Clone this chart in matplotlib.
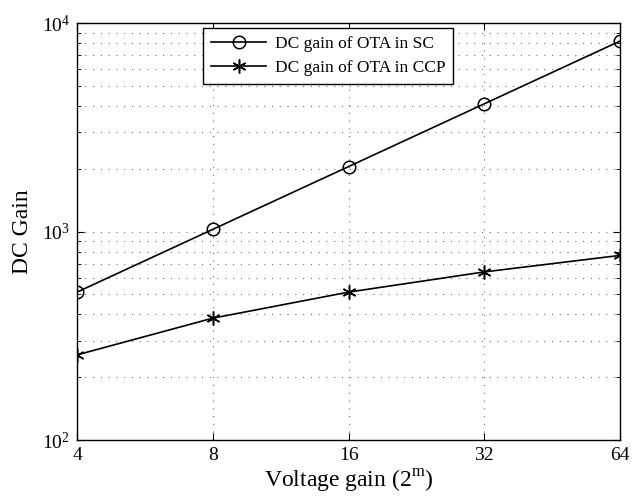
import matplotlib
matplotlib.use("Agg")
import matplotlib.pyplot as plt
from matplotlib.ticker import FixedLocator, FixedFormatter, LogLocator, NullFormatter

from matplotlib import rcParams
rcParams['font.family'] = 'serif'
rcParams['font.serif'] = ['Liberation Serif', 'DejaVu Serif']
rcParams['mathtext.fontset'] = 'custom'
rcParams['mathtext.rm'] = 'Liberation Serif'

voltage_gain = [4, 8, 16, 32, 64]
gain_sc = [512, 1024, 2048, 4096, 8192]
gain_ccp = [256, 384, 512, 640, 768]
x_ticklabels = ["4", "8", "16", "32", "64"]


def main():
    fig = plt.figure(figsize=(6.43, 5.0), dpi=100)
    ax = fig.add_axes([0.1198, 0.12, 0.8445, 0.834])

    ax.plot(voltage_gain, gain_sc, color="black", lw=1.2, marker="o",
            markersize=9, markerfacecolor="none", markeredgewidth=1.1,
            label="DC gain of OTA in SC")
    # asterisk marker: three crossed strokes
    ax.plot(voltage_gain, gain_ccp, color="black", lw=1.2, marker=(6, 2, 0),
            markersize=10, markeredgewidth=1.1,
            label="DC gain of OTA in CCP")

    ax.set_xscale("log", base=2)
    ax.set_yscale("log")
    ax.set_xlim(4, 64)
    ax.set_ylim(1e2, 1e4)

    ax.xaxis.set_major_locator(FixedLocator(voltage_gain))
    ax.xaxis.set_major_formatter(FixedFormatter(x_ticklabels))
    ax.xaxis.set_minor_locator(FixedLocator([]))
    ax.yaxis.set_major_locator(LogLocator(base=10))
    ax.yaxis.set_minor_locator(LogLocator(base=10, subs=range(2, 10)))
    ax.yaxis.set_minor_formatter(NullFormatter())

    dots = (0, (1, 6))
    ax.grid(True, which="major", linestyle=dots, color="#707070", lw=0.8)
    ax.grid(True, which="minor", axis="y", linestyle=dots, color="#707070", lw=0.8)

    ax.tick_params(axis="both", which="both", direction="in", labelsize=14,
                   top=True, right=True, pad=5)
    ax.tick_params(which="major", length=5)
    ax.tick_params(which="minor", length=3)
    for spine in ax.spines.values():
        spine.set_linewidth(1.0)

    ax.set_xlabel(r"Voltage gain (2$^{\mathrm{m}}$)", fontsize=17, labelpad=3)
    ax.set_ylabel("DC Gain", fontsize=17, labelpad=6)

    leg = ax.legend(loc="upper left", bbox_to_anchor=(0.232, 0.988), fontsize=12.5,
                    handlelength=3.2, handletextpad=0.5, borderpad=0.45,
                    labelspacing=0.45, borderaxespad=0,
                    fancybox=False, framealpha=1)
    leg.get_frame().set_edgecolor("black")
    leg.get_frame().set_linewidth(1.0)

    fig.savefig("out.png", dpi=100)


if __name__ == "__main__":
    main()
